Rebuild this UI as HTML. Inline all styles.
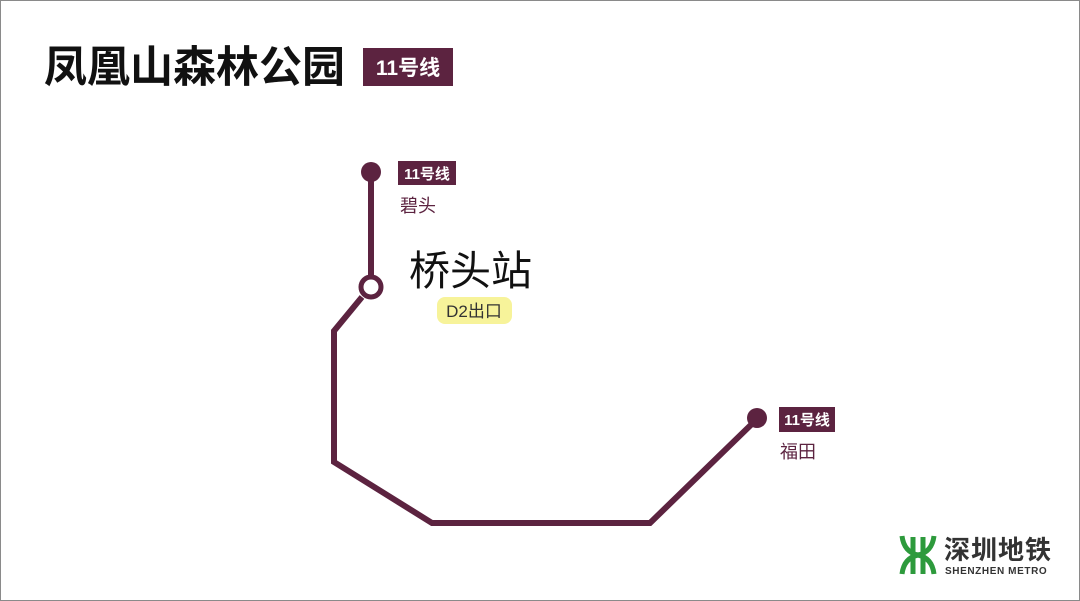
<!DOCTYPE html>
<html><head><meta charset="utf-8"><style>
html,body{margin:0;padding:0;background:#fff;}
body{width:1080px;height:601px;overflow:hidden;}
svg{display:block;}
text{font-family:"Liberation Sans","Noto Sans CJK SC",sans-serif;}
</style></head><body>
<svg width="1080" height="601" viewBox="0 0 1080 601" xmlns="http://www.w3.org/2000/svg">
<rect x="0.5" y="0.5" width="1079" height="600" fill="#fff" stroke="#8a8a8a" stroke-width="1"/>
<text x="44" y="82" font-size="43" font-weight="bold" fill="#111">凤凰山森林公园</text>
<rect x="363" y="48" width="90" height="38" fill="#5c2340"/>
<text x="408" y="75" font-size="21" font-weight="bold" fill="#fff" text-anchor="middle">11号线</text>

<polyline points="362,297 334,331 334,462 432,523 650,523 757,419" fill="none" stroke="#5c2340" stroke-width="6" stroke-linejoin="miter"/>
<line x1="371" y1="172" x2="371" y2="278" stroke="#5c2340" stroke-width="6"/>
<circle cx="371" cy="172" r="10" fill="#5c2340"/>
<circle cx="371" cy="287" r="10" fill="#fff" stroke="#5c2340" stroke-width="5"/>
<circle cx="757" cy="418" r="10" fill="#5c2340"/>

<rect x="398" y="161" width="58" height="24" fill="#5c2340"/>
<text x="427" y="179" font-size="15" font-weight="bold" fill="#fff" text-anchor="middle">11号线</text>
<text x="400" y="212" font-size="18" fill="#5c2340">碧头</text>

<text x="409" y="285" font-size="41" fill="#111">桥头站</text>
<rect x="437" y="297" width="75" height="27" rx="8" fill="#f7f39a"/>
<text x="474" y="317" font-size="17" fill="#333" text-anchor="middle">D2出口</text>

<rect x="779" y="407" width="56" height="25" fill="#5c2340"/>
<text x="807" y="425" font-size="15" font-weight="bold" fill="#fff" text-anchor="middle">11号线</text>
<text x="780" y="458" font-size="18" fill="#5c2340">福田</text>

<g fill="none" stroke="#2d9a3c" stroke-width="5">
<path d="M902,536 Q904,552 918,555 Q932,552 934,536"/>
<path d="M902,574 Q904,558 918,555 Q932,558 934,574"/>
<line x1="913" y1="537" x2="913" y2="574"/>
<line x1="923" y1="537" x2="923" y2="574"/>
</g>
<text x="944" y="559" font-size="26" font-weight="bold" fill="#333" letter-spacing="1">深圳地铁</text>
<text x="945" y="574" font-size="10" font-weight="bold" fill="#333" letter-spacing="0.6">SHENZHEN METRO</text>
</svg>
</body></html>
